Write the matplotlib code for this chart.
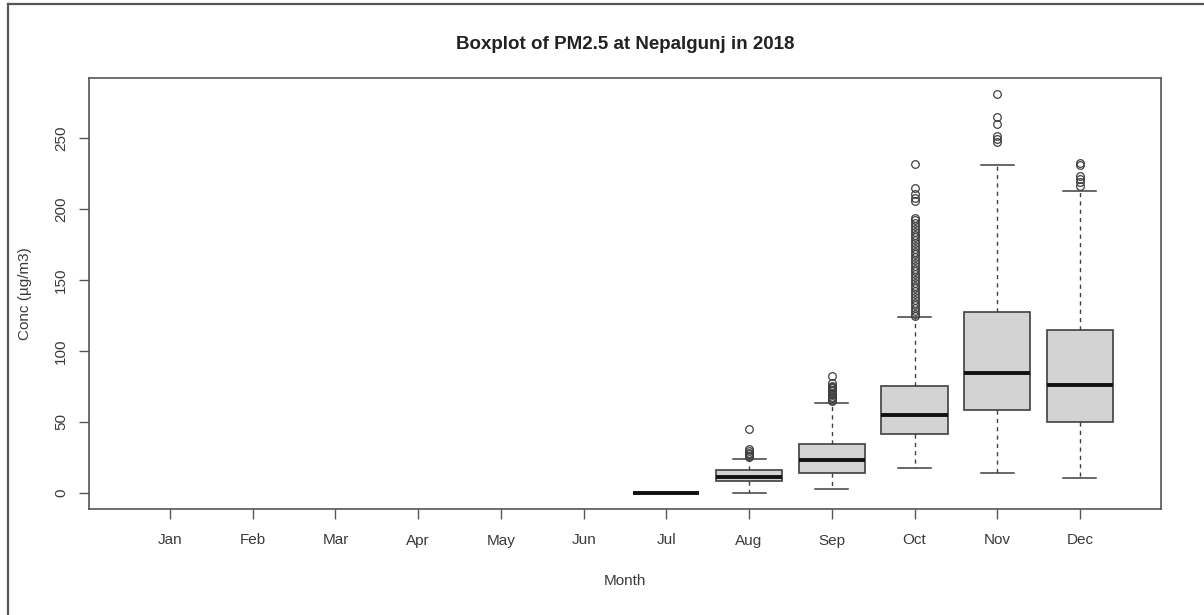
import matplotlib
matplotlib.use("Agg")
import matplotlib.pyplot as plt
from matplotlib.lines import Line2D

plt.rcParams['font.family'] = ['Liberation Sans', 'DejaVu Sans']

months = ["Jan", "Feb", "Mar", "Apr", "May", "Jun",
          "Jul", "Aug", "Sep", "Oct", "Nov", "Dec"]

# Months with data (1-based positions)
data_months = ["Jul", "Aug", "Sep", "Oct", "Nov", "Dec"]
whislo = [0.0, 0.0, 2.8, 17.1, 14.1, 10.1]
q1 = [0.0, 8.2, 13.6, 41.1, 58.1, 50.1]
med = [0.0, 11.3, 22.8, 54.5, 84.0, 75.9]
q3 = [0.0, 15.7, 34.1, 75.2, 127.7, 114.7]
whishi = [0.0, 23.5, 63.5, 123.5, 231.0, 212.4]

fliers_jul = []
fliers_aug = [44.7, 30.5, 29, 28, 27, 26, 25]
fliers_sep = [82, 77, 75.5, 74.5, 73.5, 72.5, 71.5, 70.5, 69.5, 68.5, 67.5,
              66.5, 65.5, 64.5]
fliers_oct = [231.7, 214.5, 210.5, 207.5, 205.5, 194, 192, 190, 188, 186,
              184, 182, 180, 178, 176, 174, 172, 170, 168, 166, 164, 162,
              160, 158, 156, 154, 152, 150, 148, 146, 144, 142, 140, 138,
              136, 134, 132, 130, 128, 126, 124.5]
fliers_nov = [281.2, 264.8, 260, 251.6, 249.3, 247]
fliers_dec = [232.4, 231, 223.4, 221, 218.8, 216.4]
fliers = [fliers_jul, fliers_aug, fliers_sep, fliers_oct, fliers_nov, fliers_dec]

title = "Boxplot of PM2.5 at Nepalgunj in 2018"
xlabel = "Month"
ylabel = "Conc (\u00b5g/m3)"
yticks = [0, 50, 100, 150, 200, 250]

fig = plt.figure(figsize=(12.04, 6.15), dpi=100)
ax = fig.add_axes([89 / 1204, 1 - 508.5 / 615, (1161 - 89) / 1204, (508.5 - 78) / 615])

stats = []
for i in range(len(data_months)):
    stats.append(dict(whislo=whislo[i], q1=q1[i], med=med[i], q3=q3[i],
                      whishi=whishi[i], fliers=fliers[i]))
positions = [months.index(m) + 1 for m in data_months]

edge = '#404040'
ax.bxp(stats, positions=positions, widths=0.8, capwidths=0.4,
       patch_artist=True, manage_ticks=False,
       boxprops=dict(facecolor='#d3d3d3', edgecolor=edge, linewidth=1.2),
       medianprops=dict(color='#111111', linewidth=2.8, solid_capstyle='butt'),
       whiskerprops=dict(color=edge, linewidth=1.0, linestyle=(0, (3, 3))),
       capprops=dict(color=edge, linewidth=1.1),
       flierprops=dict(marker='o', markerfacecolor='none', markeredgecolor=edge,
                       markersize=5.5, markeredgewidth=0.9, linestyle='none'))

ymax = 281.2
ax.set_ylim(-0.04 * ymax, 1.04 * ymax)
ax.set_xlim(0.5 - 0.48, 12.5 + 0.48)

ax.set_xticks(range(1, 13))
ax.set_xticklabels(months)
ax.set_yticks(yticks)
ax.set_yticklabels([str(v) for v in yticks], rotation=90, va='center')

for s in ax.spines.values():
    s.set_color('#555555')
    s.set_linewidth(1.2)
ax.tick_params(axis='both', colors='#555555', labelcolor='#3a3a3a',
               length=7, width=1.0, labelsize=11)
ax.tick_params(axis='x', pad=11)
ax.tick_params(axis='y', pad=8)

ax.set_title(title, fontsize=13.5, fontweight='bold', color='#222222', pad=21)
ax.set_xlabel(xlabel, fontsize=11, color='#3a3a3a', labelpad=19)
ax.set_ylabel(ylabel, fontsize=11, color='#3a3a3a', labelpad=16)

# outer screenshot frame (left and top edges)
fig.add_artist(Line2D([8 / 1204, 8 / 1204], [0, 1 - 4 / 615], transform=fig.transFigure,
                      color='#555555', linewidth=1.6))
fig.add_artist(Line2D([8 / 1204, 1], [1 - 4 / 615, 1 - 4 / 615], transform=fig.transFigure,
                      color='#555555', linewidth=1.6))

fig.savefig("out.png", dpi=100)
